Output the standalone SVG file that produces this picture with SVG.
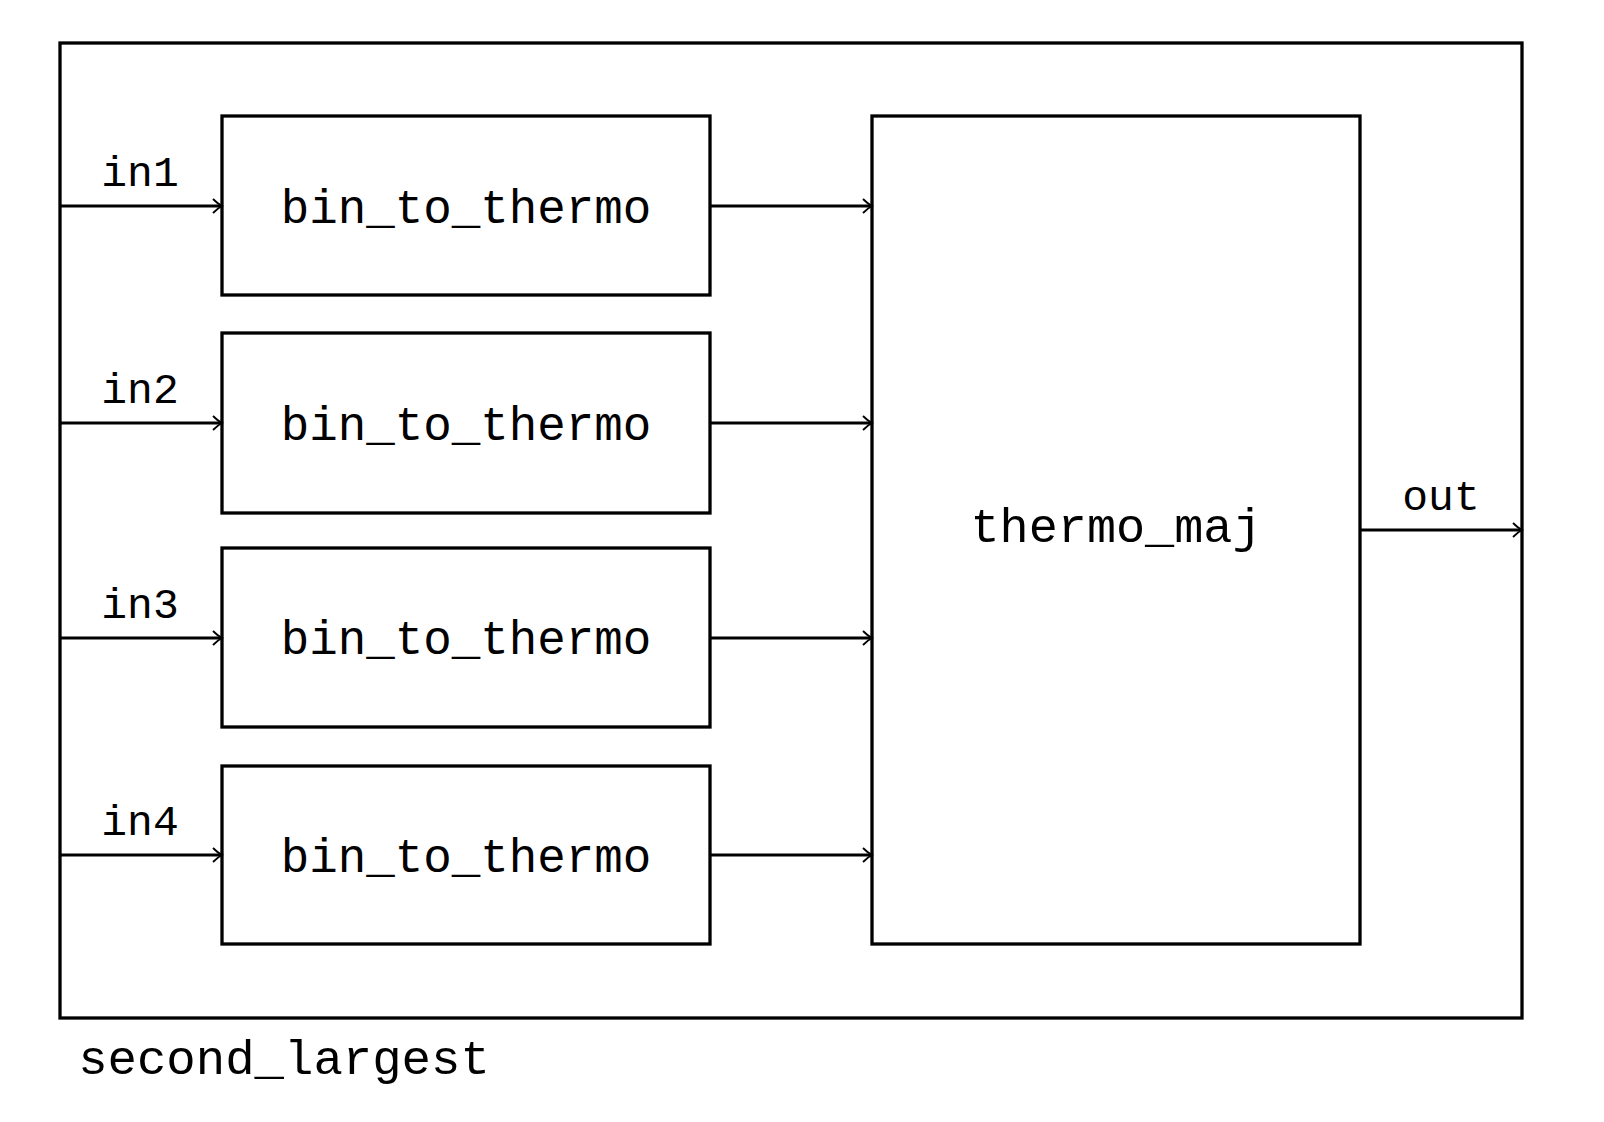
<svg xmlns="http://www.w3.org/2000/svg" width="1604" height="1122" viewBox="0 0 1604 1122">
<defs>
<style>
.box{fill:none;stroke:#000;stroke-width:3.3}
.wire{fill:none;stroke:#000;stroke-width:3}
.big{font-family:"Liberation Mono","DejaVu Sans Mono",monospace;font-size:47.5px;fill:#000;text-anchor:middle}
.sm{font-family:"Liberation Mono","DejaVu Sans Mono",monospace;font-size:43px;fill:#000;text-anchor:middle}
</style>
<marker id="arr" markerWidth="14" markerHeight="18" refX="11" refY="9" orient="auto" markerUnits="userSpaceOnUse">
<path d="M2,2 Q7,7 11,9 Q7,11 2,16" fill="none" stroke="#000" stroke-width="1.8"/>
</marker>
</defs>
<rect width="1604" height="1122" fill="#fff"/>
<g id="second_largest">
<rect class="box" x="60" y="43" width="1462" height="975"/>
<text class="big" x="284" y="1074" style="font-size:49px">second_largest</text>
</g>
<g id="b2t1"><rect class="box" x="222" y="116" width="488" height="179"/><text class="big" x="466" y="223">bin_to_thermo</text></g>
<g id="b2t2"><rect class="box" x="222" y="333" width="488" height="180"/><text class="big" x="466" y="440">bin_to_thermo</text></g>
<g id="b2t3"><rect class="box" x="222" y="548" width="488" height="179"/><text class="big" x="466" y="654">bin_to_thermo</text></g>
<g id="b2t4"><rect class="box" x="222" y="766" width="488" height="178"/><text class="big" x="466" y="872">bin_to_thermo</text></g>
<g id="thermo_maj"><rect class="box" x="872" y="116" width="488" height="828"/><text class="big" x="1116" y="542" style="font-size:48.5px">thermo_maj</text></g>
<g id="connectors">
<line class="wire" x1="60" y1="206" x2="222" y2="206" marker-end="url(#arr)"/>
<line class="wire" x1="60" y1="423" x2="222" y2="423" marker-end="url(#arr)"/>
<line class="wire" x1="60" y1="638" x2="222" y2="638" marker-end="url(#arr)"/>
<line class="wire" x1="60" y1="855" x2="222" y2="855" marker-end="url(#arr)"/>
<line class="wire" x1="710" y1="206" x2="872" y2="206" marker-end="url(#arr)"/>
<line class="wire" x1="710" y1="423" x2="872" y2="423" marker-end="url(#arr)"/>
<line class="wire" x1="710" y1="638" x2="872" y2="638" marker-end="url(#arr)"/>
<line class="wire" x1="710" y1="855" x2="872" y2="855" marker-end="url(#arr)"/>
<line class="wire" x1="1360" y1="530" x2="1522" y2="530" marker-end="url(#arr)"/>
<text class="sm" x="140" y="186">in1</text>
<text class="sm" x="140" y="403">in2</text>
<text class="sm" x="140" y="618">in3</text>
<text class="sm" x="140" y="835">in4</text>
<text class="sm" x="1441" y="510">out</text>
</g>
</svg>
